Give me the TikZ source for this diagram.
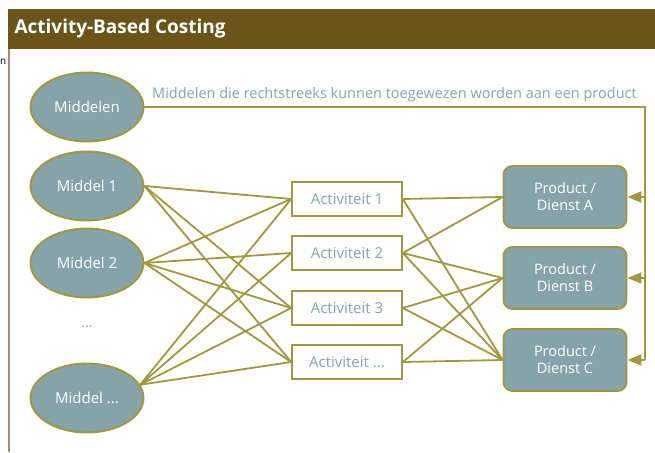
\documentclass[tikz,border=0pt]{standalone}
\usepackage{fontspec}
\setmainfont{Open Sans}
\usetikzlibrary{arrows.meta,shapes.geometric}
\definecolor{hdr}{RGB}{107,84,25}
\definecolor{olive}{RGB}{160,152,58}
\definecolor{teal}{RGB}{133,163,168}
\definecolor{frame}{RGB}{160,145,110}
\tikzset{
  res/.style={ellipse,draw=olive,line width=1.9pt,fill=teal,text=white,
    minimum width=113pt,minimum height=69pt,inner sep=0pt,font=\fontsize{15}{17}\selectfont},
  act/.style={rectangle,draw=olive,line width=1.7pt,fill=white,text=teal,
    minimum width=110pt,minimum height=34pt,inner sep=0pt,font=\fontsize{15}{17}\selectfont},
  prod/.style={rectangle,rounded corners=9pt,draw=olive,line width=1.9pt,fill=teal,text=white,
    minimum width=123pt,minimum height=62pt,inner sep=0pt,align=center,
    font=\fontsize{14.5}{17}\selectfont},
  link/.style={draw=olive,line width=1.8pt},
  feed/.style={draw=olive,line width=1.8pt,-{Triangle[length=14pt,width=11pt]}}
}
\begin{document}
\begin{tikzpicture}[x=1pt,y=-1pt]
\useasboundingbox (0,0) rectangle (655,452);
% header bar and frame
\fill[hdr] (8,9) rectangle (655,49);
\node[anchor=west,text=white,font=\fontsize{19}{21}\selectfont\bfseries] (title) at (11,29) {Activity-Based Costing};
\draw[frame,line width=1.2pt] (9,49) -- (9,452);
\node[anchor=west,inner sep=0pt,font=\fontsize{10}{12}\selectfont] (edge) at (0,62) {n};

% resources
\node[res] (m0) at (87,107) {Middelen};
\node[res] (m1) at (87,186) {Middel 1};
\node[res] (m2) at (87,263) {Middel 2};
\node[text=teal,font=\fontsize{14}{16}\selectfont] (dots) at (87,327) {...};
\node[res] (mn) at (87,398) {Middel ...};

% activities
\node[act] (a1) at (347,199) {Activiteit 1};
\node[act] (a2) at (347,253) {Activiteit 2};
\node[act] (a3) at (347,308) {Activiteit 3};
\node[act] (a4) at (347,362) {Activiteit ...};

% products
\node[prod] (pa) at (565,197) {Product /\\Dienst A};
\node[prod] (pb) at (565,278) {Product /\\Dienst B};
\node[prod] (pc) at (565,360) {Product /\\Dienst C};

% resources to activities
\draw[link] (m1.east) -- (a1.west);
\draw[link] (m1.east) -- (a3.west);
\draw[link] (m1.east) -- (a4.west);
\draw[link] (m2.east) -- (a1.west);
\draw[link] (m2.east) -- (a2.west);
\draw[link] (m2.east) -- (a3.west);
\draw[link] (m2.east) -- (a4.west);
\draw[link] (mn.14) -- (a1.west);
\draw[link] (mn.14) -- (a2.west);
\draw[link] (mn.14) -- (a3.west);
\draw[link] (mn.14) -- (a4.west);
% activities to products
\draw[link] (a1.east) -- (pa.west);
\draw[link] (a1.east) -- (pc.west);
\draw[link] (a2.east) -- (pa.west);
\draw[link] (a2.east) -- (pb.west);
\draw[link] (a2.east) -- (pc.west);
\draw[link] (a3.east) -- (pb.west);
\draw[link] (a3.east) -- (pc.west);
\draw[link] (a4.east) -- (pb.west);
\draw[link] (a4.east) -- (pc.west);

% direct assignment path
\coordinate (tr) at (645,107);
\draw[link] (m0.east) -- (tr) -- (pc.east -| tr);
\draw[feed] (pa.east -| tr) -- (pa.east);
\draw[feed] (pb.east -| tr) -- (pb.east);
\draw[feed] (pc.east -| tr) -- (pc.east);
\node[anchor=west,inner sep=0pt,text=teal,font=\fontsize{14.5}{17}\selectfont] (lbl) at (152,95)
  {Middelen die rechtstreeks kunnen toegewezen worden aan een product};
\end{tikzpicture}
\end{document}
